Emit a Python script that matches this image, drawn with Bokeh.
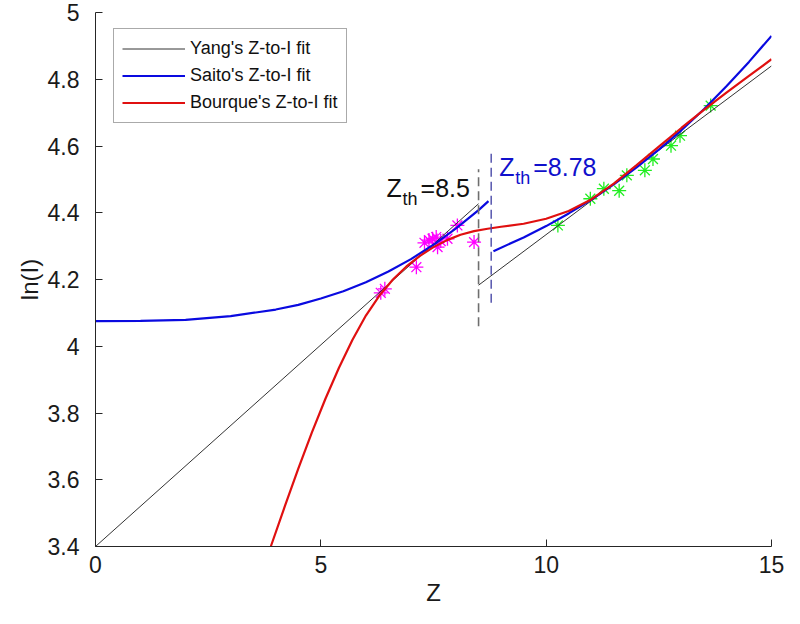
from bokeh.plotting import figure
from bokeh.models import Label, Legend, LegendItem, FixedTicker, Range1d
from bokeh.embed import file_html
from bokeh.resources import INLINE

# ---------------- data ----------------
x_ticks = [0, 5, 10, 15]
y_ticks = [3.4, 3.6, 3.8, 4.0, 4.2, 4.4, 4.6, 4.8, 5.0]

ZTH_YANG = 8.5
ZTH_SAITO = 8.78

# Yang's fit: two straight segments split at Z_th = 8.5
yang1_z = [0.0, 8.5]
yang1_v = [3.400, 4.427]
yang2_z = [8.5, 15.0]
yang2_v = [4.183, 4.840]

# Saito's fit: two curved segments split at Z_th = 8.78
saito1_z = [0, 1, 2, 3, 4, 4.5, 5, 5.5, 6, 6.5, 7, 7.5, 8, 8.5, 8.72]
saito1_v = [4.075, 4.076, 4.079, 4.090, 4.110, 4.124, 4.143, 4.165, 4.192,
            4.224, 4.261, 4.304, 4.353, 4.408, 4.435]
saito2_z = [8.83, 9.5, 10, 10.5, 11, 11.5, 12, 12.5, 13, 13.5, 14, 14.5, 15]
saito2_v = [4.285, 4.326, 4.360, 4.398, 4.439, 4.485, 4.535, 4.589, 4.647,
            4.710, 4.779, 4.852, 4.930]

# Bourque's fit: one continuous curve
bourque_z = [3.89, 4.2, 4.5, 4.8, 5.1, 5.4, 5.7, 6.0, 6.3, 6.6, 6.9, 7.2,
             7.5, 7.8, 8.1, 8.4, 8.7, 9.0, 9.5, 10.0, 10.5, 11.0, 11.5, 12.0,
             12.5, 13.0, 13.5, 14.0, 14.5, 15.0]
bourque_v = [3.400, 3.520, 3.633, 3.741, 3.842, 3.935, 4.019, 4.092, 4.152,
             4.200, 4.239, 4.271, 4.297, 4.318, 4.334, 4.345, 4.352, 4.358,
             4.367, 4.382, 4.405, 4.440, 4.487, 4.542, 4.598, 4.654, 4.708,
             4.760, 4.810, 4.860]

# threshold marker extents
dash_yang_v = [4.06, 4.53]
dash_saito_v = [4.13, 4.59]

# measured points below / above threshold
low_z = [6.33, 6.42, 7.12, 7.30, 7.40, 7.48, 7.56, 7.59, 7.66, 7.81, 8.03, 8.40]
low_v = [4.160, 4.172, 4.237, 4.310, 4.318, 4.322, 4.327, 4.297, 4.315,
         4.322, 4.362, 4.312]
high_z = [10.26, 10.98, 11.28, 11.62, 11.79, 12.19, 12.37, 12.77, 12.97, 13.65]
high_v = [4.362, 4.442, 4.472, 4.466, 4.512, 4.527, 4.561, 4.601, 4.631, 4.721]

# ---------------- figure ----------------
FONT = "Liberation Sans"
AX = "#262626"

p = figure(width=784, height=608, output_backend="svg", toolbar_location=None,
           x_range=Range1d(0, 15), y_range=Range1d(3.4, 5.0),
           min_border_left=95, min_border_right=13, min_border_top=12,
           min_border_bottom=60)
p.outline_line_color = None
p.xgrid.visible = False
p.ygrid.visible = False
p.background_fill_color = "white"

for ax in (p.xaxis[0], p.yaxis[0]):
    ax.axis_line_color = AX
    ax.major_tick_line_color = AX
    ax.minor_tick_line_color = None
    ax.major_tick_in = 7
    ax.major_tick_out = 0
    ax.major_label_text_font = FONT
    ax.major_label_text_font_size = "23px"
    ax.major_label_text_color = "#1a1a1a"
    ax.axis_label_text_font = FONT
    ax.axis_label_text_font_size = "24px"
    ax.axis_label_text_font_style = "normal"
    ax.axis_label_text_color = "#1a1a1a"

p.xaxis.ticker = FixedTicker(ticks=x_ticks)
p.yaxis.ticker = FixedTicker(ticks=y_ticks)
p.yaxis.major_label_overrides = {4.0: "4", 5.0: "5"}
p.xaxis.axis_label = "Z"
p.yaxis.axis_label = "ln(I)"
p.xaxis.major_label_standoff = 9
p.xaxis.axis_label_standoff = 3
p.yaxis.major_label_standoff = 16
p.yaxis.axis_label_standoff = 2

# measured points
p.scatter(low_z, low_v, marker="asterisk", size=14, line_color="#ff00ff",
          line_width=1.3)
p.scatter(high_z, high_v, marker="asterisk", size=14, line_color="#22ee22",
          line_width=1.3)

# fits
y1 = p.line(yang1_z, yang1_v, line_color="#333333", line_width=1)
p.line(yang2_z, yang2_v, line_color="#333333", line_width=1)
s1 = p.line(saito1_z, saito1_v, line_color="#0a0ae0", line_width=2.2)
p.line(saito2_z, saito2_v, line_color="#0a0ae0", line_width=2.2)
b1 = p.line(bourque_z, bourque_v, line_color="#e01010", line_width=2.2)

# thresholds
p.line([ZTH_YANG, ZTH_YANG], dash_yang_v, line_color="#6e6e6e",
       line_width=1.6, line_dash="9 5")
p.line([ZTH_SAITO, ZTH_SAITO], dash_saito_v, line_color="#4a4aa8",
       line_width=1.4, line_dash="9 5")

# threshold labels (Z with subscript th)
def zth_label(xv, yv, dx, color, rest):
    p.add_layout(Label(x=xv, y=yv, x_offset=dx, text="Z", text_font=FONT,
                       text_font_size="25px", text_color=color,
                       text_baseline="alphabetic"))
    p.add_layout(Label(x=xv, y=yv, x_offset=dx + 16, y_offset=-11, text="th",
                       text_font=FONT, text_font_size="18px", text_color=color,
                       text_baseline="alphabetic"))
    p.add_layout(Label(x=xv, y=yv, x_offset=dx + 34, text=rest,
                       text_font=FONT, text_font_size="25px", text_color=color,
                       text_baseline="alphabetic"))

zth_label(ZTH_YANG, 4.474, -92, "#111111", "=" + str(ZTH_YANG))
zth_label(ZTH_SAITO, 4.537, 8, "#1010cc", "=" + str(ZTH_SAITO))

legend = Legend(items=[
    LegendItem(label="Yang's Z-to-I fit", renderers=[y1]),
    LegendItem(label="Saito's Z-to-I fit", renderers=[s1]),
    LegendItem(label="Bourque's Z-to-I fit", renderers=[b1]),
], location=(18, 423))
legend.label_text_font = FONT
legend.label_text_font_size = "18px"
legend.label_text_color = "#111111"
legend.glyph_width = 63
legend.glyph_height = 23
legend.label_height = 23
legend.label_standoff = 5
legend.spacing = 4
legend.padding = 8
legend.margin = 0
legend.border_line_color = "#555555"
legend.border_line_width = 1
legend.background_fill_color = "white"
legend.background_fill_alpha = 1
p.add_layout(legend, "center")

open("out.html", "w").write(file_html(p, INLINE))
